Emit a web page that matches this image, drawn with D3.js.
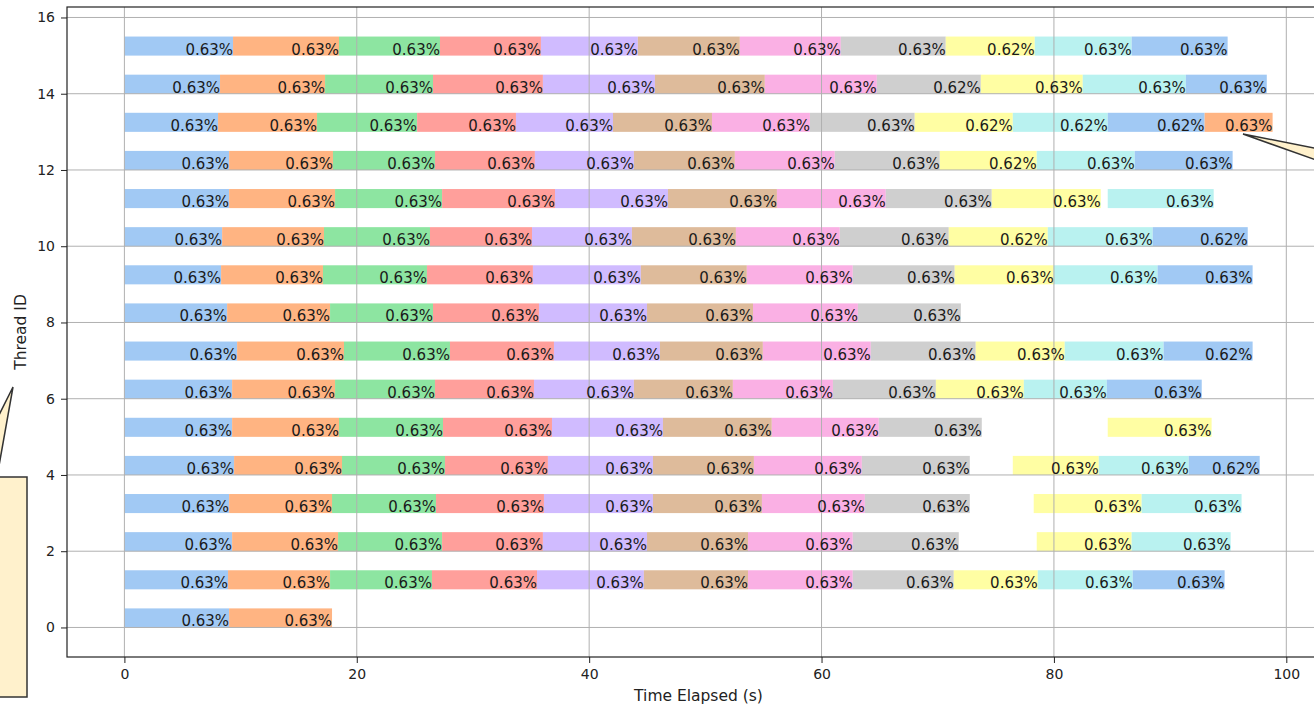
<!DOCTYPE html>
<html>
<head>
<meta charset="utf-8">
<script src="https://cdn.jsdelivr.net/npm/d3@7"></script>
<style>
  html, body { margin: 0; padding: 0; background: #fff; }
  svg { display: block; font-family: "DejaVu Sans", sans-serif; }
</style>
</head>
<body>
<svg id="chart" width="1314" height="704"></svg>
<script>
// Thread ids shown on the y axis
const threadIds = d3.range(0, 16);

// Task segments per thread: [start, end] in seconds, in execution order
const segments = {
  15: [[0, 9.35], [9.35, 18.47], [18.47, 27.16], [27.16, 35.85], [35.85, 44.19], [44.19, 52.97], [52.97, 61.66], [61.66, 70.69], [70.69, 78.35], [78.35, 86.69], [86.69, 94.95]],
  14: [[0, 8.23], [8.23, 17.27], [17.27, 26.56], [26.56, 36.02], [36.02, 45.66], [45.66, 55.12], [55.12, 64.76], [64.76, 73.71], [73.71, 82.48], [82.48, 91.35], [91.35, 98.32]],
  13: [[0, 8.06], [8.06, 16.58], [16.58, 25.19], [25.19, 33.70], [33.70, 42.05], [42.05, 50.57], [50.57, 59.00], [59.00, 68.02], [68.02, 76.46], [76.46, 84.63], [84.63, 92.97], [92.97, 98.82]],
  12: [[0, 9.01], [9.01, 17.95], [17.95, 26.73], [26.73, 35.33], [35.33, 43.85], [43.85, 52.54], [52.54, 61.14], [61.14, 70.18], [70.18, 78.52], [78.52, 86.95], [86.95, 95.38]],
  11: [[0, 9.01], [9.01, 18.13], [18.13, 27.34], [27.34, 37.06], [37.06, 46.78], [46.78, 56.16], [56.16, 65.53], [65.53, 74.65], [74.65, 84.03], [84.63, 93.75]],
  10: [[0, 8.41], [8.41, 17.18], [17.18, 26.30], [26.30, 35.08], [35.08, 43.68], [43.68, 52.63], [52.63, 61.57], [61.57, 70.95], [70.95, 79.47], [79.47, 88.50], [88.50, 96.68]],
  9:  [[0, 8.32], [8.32, 17.09], [17.09, 26.04], [26.04, 35.16], [35.16, 44.45], [44.45, 53.57], [53.57, 62.69], [62.69, 71.46], [71.46, 79.98], [79.98, 88.92], [88.92, 97.10]],
  8:  [[0, 8.84], [8.84, 17.70], [17.70, 26.56], [26.56, 35.68], [35.68, 44.98], [44.98, 54.10], [54.10, 63.13], [63.13, 71.99]],
  7:  [[0, 9.70], [9.70, 18.90], [18.90, 28.02], [28.02, 36.97], [36.97, 46.09], [46.09, 54.95], [54.95, 64.24], [64.24, 73.27], [73.27, 80.93], [80.93, 89.44], [89.44, 97.10]],
  6:  [[0, 9.27], [9.27, 18.13], [18.13, 26.73], [26.73, 35.25], [35.25, 43.85], [43.85, 52.37], [52.37, 60.98], [60.98, 69.84], [69.84, 77.41], [77.41, 84.55], [84.55, 92.72]],
  5:  [[0, 9.27], [9.27, 18.47], [18.47, 27.42], [27.42, 36.80], [36.80, 46.35], [46.35, 55.72], [55.72, 64.93], [64.93, 73.79], [84.63, 93.57]],
  4:  [[0, 9.44], [9.44, 18.73], [18.73, 27.59], [27.59, 36.45], [36.45, 45.49], [45.49, 54.18], [54.18, 63.47], [63.47, 72.76], [76.46, 83.86], [83.86, 91.60], [91.60, 97.71]],
  3:  [[0, 9.01], [9.01, 17.87], [17.87, 26.82], [26.82, 36.11], [36.11, 45.49], [45.49, 54.87], [54.87, 63.73], [63.73, 72.76], [78.26, 87.55], [87.55, 96.15]],
  2:  [[0, 9.27], [9.27, 18.39], [18.39, 27.34], [27.34, 36.02], [36.02, 44.98], [44.98, 53.67], [53.67, 62.69], [62.69, 71.81], [78.52, 86.69], [86.69, 95.21]],
  1:  [[0, 8.92], [8.92, 17.70], [17.70, 26.47], [26.47, 35.51], [35.51, 44.71], [44.71, 53.67], [53.67, 62.69], [62.69, 71.38], [71.38, 78.61], [78.61, 86.78], [86.78, 94.69]],
  0:  [[0, 9.01], [9.01, 17.87]]
};

// Share labels per segment, same order as the segments above
const shareLabels = {
  15: ["0.63%", "0.63%", "0.63%", "0.63%", "0.63%", "0.63%", "0.63%", "0.63%", "0.62%", "0.63%", "0.63%"],
  14: ["0.63%", "0.63%", "0.63%", "0.63%", "0.63%", "0.63%", "0.63%", "0.62%", "0.63%", "0.63%", "0.63%"],
  13: ["0.63%", "0.63%", "0.63%", "0.63%", "0.63%", "0.63%", "0.63%", "0.63%", "0.62%", "0.62%", "0.62%", "0.63%"],
  12: ["0.63%", "0.63%", "0.63%", "0.63%", "0.63%", "0.63%", "0.63%", "0.63%", "0.62%", "0.63%", "0.63%"],
  11: ["0.63%", "0.63%", "0.63%", "0.63%", "0.63%", "0.63%", "0.63%", "0.63%", "0.63%", "0.63%"],
  10: ["0.63%", "0.63%", "0.63%", "0.63%", "0.63%", "0.63%", "0.63%", "0.63%", "0.62%", "0.63%", "0.62%"],
  9:  ["0.63%", "0.63%", "0.63%", "0.63%", "0.63%", "0.63%", "0.63%", "0.63%", "0.63%", "0.63%", "0.63%"],
  8:  ["0.63%", "0.63%", "0.63%", "0.63%", "0.63%", "0.63%", "0.63%", "0.63%"],
  7:  ["0.63%", "0.63%", "0.63%", "0.63%", "0.63%", "0.63%", "0.63%", "0.63%", "0.63%", "0.63%", "0.62%"],
  6:  ["0.63%", "0.63%", "0.63%", "0.63%", "0.63%", "0.63%", "0.63%", "0.63%", "0.63%", "0.63%", "0.63%"],
  5:  ["0.63%", "0.63%", "0.63%", "0.63%", "0.63%", "0.63%", "0.63%", "0.63%", "0.63%"],
  4:  ["0.63%", "0.63%", "0.63%", "0.63%", "0.63%", "0.63%", "0.63%", "0.63%", "0.63%", "0.63%", "0.62%"],
  3:  ["0.63%", "0.63%", "0.63%", "0.63%", "0.63%", "0.63%", "0.63%", "0.63%", "0.63%", "0.63%"],
  2:  ["0.63%", "0.63%", "0.63%", "0.63%", "0.63%", "0.63%", "0.63%", "0.63%", "0.63%", "0.63%"],
  1:  ["0.63%", "0.63%", "0.63%", "0.63%", "0.63%", "0.63%", "0.63%", "0.63%", "0.63%", "0.63%", "0.63%"],
  0:  ["0.63%", "0.63%"]
};

// Task colours, cycled by position within a thread
const taskColors = ["#a1c9f4", "#ffb482", "#8de5a1", "#ff9f9b", "#d0bbff",
                    "#debb9b", "#fab0e4", "#cfcfcf", "#fffea3", "#b9f2f0"];

const xTicks = [0, 20, 40, 60, 80, 100];
const yTicks = [0, 2, 4, 6, 8, 10, 12, 14, 16];

const svg = d3.select("#chart");
const plot = { left: 67, right: 1330, top: 7, bottom: 657 };

const x = d3.scaleLinear().domain([-4.94, 103.76]).range([plot.left, plot.right]);
const y = d3.scaleLinear().domain([-0.775, 16.275]).range([plot.bottom, plot.top]);
const barHeight = 0.5;

// Flatten into drawable rows
const rows = [];
threadIds.forEach(t => {
  (segments[t] || []).forEach((s, i) => {
    rows.push({ thread: t, start: s[0], end: s[1], idx: i, label: shareLabels[t][i] });
  });
});

// Bars
svg.append("g").selectAll("rect").data(rows).join("rect")
  .attr("x", d => x(d.start))
  .attr("y", d => y(d.thread + barHeight))
  .attr("width", d => x(d.end) - x(d.start))
  .attr("height", d => y(d.thread) - y(d.thread + barHeight))
  .attr("fill", d => taskColors[d.idx % taskColors.length]);

// Grid lines above the bars
const grid = svg.append("g").attr("stroke", "#b0b0b0").attr("stroke-width", 1);
grid.selectAll(".gx").data(xTicks).join("line")
  .attr("x1", d => x(d)).attr("x2", d => x(d))
  .attr("y1", plot.top).attr("y2", plot.bottom);
grid.selectAll(".gy").data(yTicks).join("line")
  .attr("y1", d => y(d)).attr("y2", d => y(d))
  .attr("x1", plot.left).attr("x2", plot.right);

// Segment labels, right-aligned at each segment end
svg.append("g").selectAll("text").data(rows).join("text")
  .attr("x", d => x(d.end))
  .attr("y", d => y(d.thread) - 1)
  .attr("text-anchor", "end")
  .attr("font-size", 15)
  .attr("fill", "#1a1a1a")
  .text(d => d.label);

// Axes
const xAxis = d3.axisBottom(x).tickValues(xTicks).tickSize(6).tickPadding(6).tickFormat(d3.format("d"));
const yAxis = d3.axisLeft(y).tickValues(yTicks).tickSize(6).tickPadding(6).tickFormat(d3.format("d"));

const gx = svg.append("g").attr("transform", `translate(0,${plot.bottom})`).call(xAxis);
const gy = svg.append("g").attr("transform", `translate(${plot.left},0)`).call(yAxis);
[gx, gy].forEach(g => {
  g.select(".domain").remove();
  g.selectAll("text").attr("font-size", 14).attr("fill", "#222").attr("font-family", "DejaVu Sans");
  g.selectAll("line").attr("stroke", "#222");
});

// Frame
svg.append("rect")
  .attr("x", plot.left).attr("y", plot.top)
  .attr("width", plot.right - plot.left).attr("height", plot.bottom - plot.top)
  .attr("fill", "none").attr("stroke", "#222").attr("stroke-width", 1.2);

// Axis titles
svg.append("text")
  .attr("x", (plot.left + plot.right) / 2).attr("y", 701)
  .attr("text-anchor", "middle").attr("font-size", 15.5).attr("fill", "#222")
  .text("Time Elapsed (s)");
svg.append("text")
  .attr("transform", `translate(26,${(plot.top + plot.bottom) / 2}) rotate(-90)`)
  .attr("text-anchor", "middle").attr("font-size", 15.5).attr("fill", "#222")
  .text("Thread ID");

// Callout boxes with wedge pointers
const calloutFill = "#fff1cc";
const calloutStroke = "#333";

// Left callout pointing up toward the y axis title
svg.append("path")
  .attr("d", "M13,387 L-32,477 L-3,477 Z")
  .attr("fill", calloutFill).attr("stroke", calloutStroke).attr("stroke-width", 1.5);
svg.append("rect")
  .attr("x", -200).attr("y", 477).attr("width", 227).attr("height", 220)
  .attr("fill", calloutFill).attr("stroke", calloutStroke).attr("stroke-width", 1.5);

// Right callout pointing at the last task of thread 13
svg.append("path")
  .attr("d", "M1243,134 L1400,165 L1400,190 Z")
  .attr("fill", calloutFill).attr("stroke", calloutStroke).attr("stroke-width", 1.5);
</script>
</body>
</html>
